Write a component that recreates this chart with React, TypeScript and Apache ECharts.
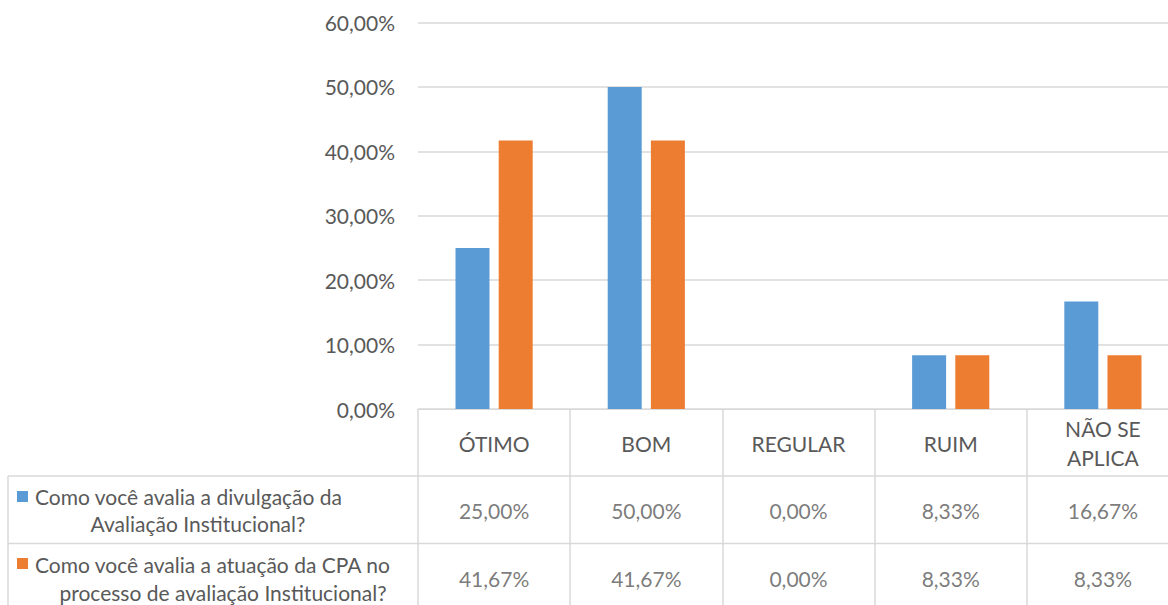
import React, { useEffect, useRef } from "react";
import * as echarts from "echarts";

const categories = ["ÓTIMO", "BOM", "REGULAR", "RUIM", "NÃO SE\nAPLICA"];
const seriesNames = [
  "Como você avalia a divulgação da Avaliação Institucional?",
  "Como você avalia a atuação da CPA no processo de avaliação Institucional?",
];
const divulgacao = [25.0, 50.0, 0.0, 8.33, 16.67];
const atuacao = [41.67, 41.67, 0.0, 8.33, 8.33];
const yTicks = { min: 0, max: 60, interval: 10 };

const BLUE = "#5B9BD5";
const ORANGE = "#ED7D31";
const TXT = "#595959";
const LINE = "#D9D9D9";
const FONT = "Lato, 'Open Sans', sans-serif";
const FS = 21;

const fmt = (v: number) => v.toFixed(2).replace(".", ",") + "%";

export default function App() {
  const ref = useRef<HTMLDivElement>(null);
  useEffect(() => {
    document.body.style.margin = "0";
    const chart = echarts.init(ref.current!, undefined, { renderer: "svg" });
    const rows = [divulgacao, atuacao];
    const tableSeries = rows.map((vals, r) => ({
      type: "scatter",
      name: "table" + r,
      xAxisIndex: 1,
      yAxisIndex: 1,
      symbolSize: 1,
      itemStyle: { color: "rgba(0,0,0,0)" },
      silent: true,
      label: {
        show: true,
        position: "inside",
        color: TXT,
        fontFamily: FONT,
        fontSize: FS,
        formatter: (p: any) => fmt(p.value[2]),
      },
      data: vals.map((v, i) => [i, r, v]),
    }));
    chart.setOption({
      animation: false,
      backgroundColor: "#ffffff",
      textStyle: { fontFamily: FONT },
      grid: [
        { left: 418, top: 22.5, width: 761, height: 386.5, outerBoundsMode: "none", containLabel: false },
        { left: 418, top: 476, width: 761, height: 136, outerBoundsMode: "none", containLabel: false },
      ],
      xAxis: [
        {
          type: "category",
          gridIndex: 0,
          data: categories,
          axisLine: { show: true, lineStyle: { color: LINE, width: 1 } },
          axisTick: {
            show: true,
            interval: 0,
            length: 196,
            lineStyle: { color: LINE, width: 1.5 },
          },
          axisLabel: {
            interval: 0,
            margin: 34,
            verticalAlign: "middle",
            color: TXT,
            fontFamily: FONT,
            fontSize: FS,
            lineHeight: 29,
          },
        },
        {
          type: "category",
          gridIndex: 1,
          data: categories,
          show: false,
        },
      ],
      yAxis: [
        {
          type: "value",
          gridIndex: 0,
          min: yTicks.min,
          max: yTicks.max,
          interval: yTicks.interval,
          axisLine: { show: false },
          axisTick: { show: false },
          splitLine: { lineStyle: { color: LINE, width: 1.5 } },
          axisLabel: {
            margin: 23,
            color: TXT,
            fontFamily: FONT,
            fontSize: FS,
            formatter: (v: number) => fmt(v),
          },
        },
        {
          type: "category",
          gridIndex: 1,
          data: [0, 1],
          inverse: true,
          show: false,
        },
      ],
      series: [
        {
          type: "bar",
          name: seriesNames[0],
          data: divulgacao,
          barWidth: 34,
          barGap: "27%",
          itemStyle: { color: BLUE },
        },
        {
          type: "bar",
          name: seriesNames[1],
          data: atuacao,
          barWidth: 34,
          itemStyle: { color: ORANGE },
        },
        ...tableSeries,
      ],
      graphic: [
        { type: "line", shape: { x1: 8, y1: 476, x2: 1179, y2: 476 }, style: { stroke: LINE, lineWidth: 1.5 } },
        { type: "line", shape: { x1: 8, y1: 543.5, x2: 1179, y2: 543.5 }, style: { stroke: LINE, lineWidth: 1.5 } },
        { type: "line", shape: { x1: 8, y1: 476, x2: 8, y2: 605 }, style: { stroke: LINE, lineWidth: 1.5 } },
        { type: "rect", shape: { x: 17, y: 491, width: 11, height: 11 }, style: { fill: BLUE } },
        { type: "rect", shape: { x: 17, y: 558, width: 11, height: 11 }, style: { fill: ORANGE } },
        {
          type: "text", x: 35, y: 496,
          style: { text: "Como você avalia a divulgação da", fill: TXT, font: `${FS}px ${FONT}`, textAlign: "left", textVerticalAlign: "middle" },
        },
        {
          type: "text", x: 198, y: 523,
          style: { text: "Avaliação Institucional?", fill: TXT, font: `${FS}px ${FONT}`, textAlign: "center", textVerticalAlign: "middle" },
        },
        {
          type: "text", x: 35, y: 564,
          style: { text: "Como você avalia a atuação da CPA no", fill: TXT, font: `${FS}px ${FONT}`, textAlign: "left", textVerticalAlign: "middle" },
        },
        {
          type: "text", x: 223, y: 592,
          style: { text: "processo de avaliação Institucional?", fill: TXT, font: `${FS}px ${FONT}`, textAlign: "center", textVerticalAlign: "middle" },
        },
      ],
    });
    return () => chart.dispose();
  }, []);
  return (
    <div
      ref={ref}
      style={{ position: "absolute", left: 0, top: 0, width: 1168, height: 605 }}
    />
  );
}
